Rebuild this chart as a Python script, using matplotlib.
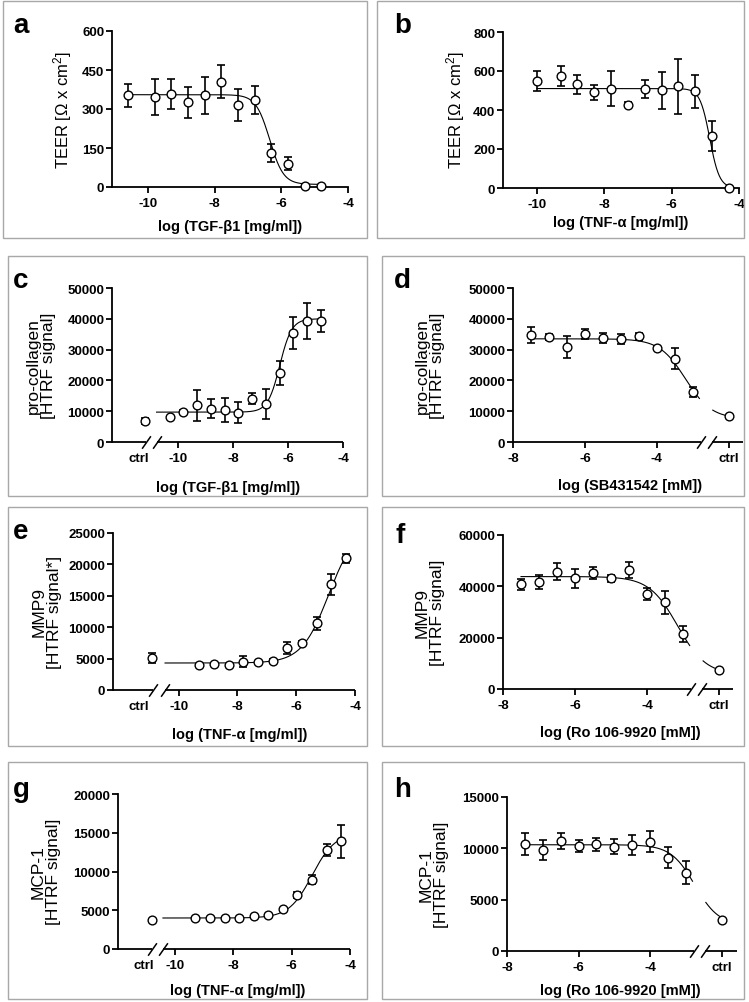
import numpy as np
import matplotlib
matplotlib.use("Agg")
import matplotlib.pyplot as plt
from matplotlib.patches import Rectangle

W, H = 749, 1003

plt.rcParams['font.family'] = ['Liberation Sans', 'DejaVu Sans']
plt.rcParams['axes.unicode_minus'] = False
plt.rcParams['mathtext.fontset'] = 'custom'
plt.rcParams['mathtext.rm'] = 'Liberation Sans'
plt.rcParams['mathtext.it'] = 'Liberation Sans:italic'
plt.rcParams['mathtext.bf'] = 'Liberation Sans:bold'

# --- data (log concentration, mean, error) ---
# fit = (bottom, top, logEC50, hill slope)

# a: TEER vs TGF-b1
a_x = [-10.6, -9.8, -9.3, -8.8, -8.3, -7.8, -7.3, -6.8, -6.3, -5.8, -5.3, -4.8]
a_y = [352, 346, 357, 326, 352, 405, 315, 334, 131, 89, 2, 2]
a_err = [45, 70, 58, 60, 70, 63, 62, 53, 35, 25, 0, 0]
a_fit = (10, 355, -6.35, -2.1)

# b: TEER vs TNF-a
b_x = [-10, -9.3, -8.8, -8.3, -7.8, -7.3, -6.8, -6.3, -5.8, -5.3, -4.8, -4.3]
b_y = [548, 575, 532, 490, 510, 428, 507, 502, 522, 495, 268, 0]
b_err = [50, 50, 50, 38, 90, 12, 45, 95, 140, 85, 77, 0]
b_fit = (0, 510, -4.87, -3.0)

# c: pro-collagen vs TGF-b1
c_x = [-10.3, -9.8, -9.3, -8.8, -8.3, -7.8, -7.3, -6.8, -6.3, -5.8, -5.3, -4.8]
c_y = [8100, 9700, 11900, 10800, 10300, 9500, 14100, 12300, 22400, 35400, 39200, 39300]
c_err = [0, 700, 5000, 3000, 3900, 3400, 1700, 4900, 3800, 5200, 5900, 3500]
c_ctrl = 6800
c_ctrl_err = 900
c_fit = (9700, 40000, -6.3, 2.0)

# d: pro-collagen vs SB431542
d_x = [-7.5, -7, -6.5, -6, -5.5, -5, -4.5, -4, -3.5, -3]
d_y = [34800, 34100, 30800, 35100, 33700, 33500, 34300, 30500, 27000, 16300]
d_err = [2600, 1100, 3600, 1600, 1600, 1700, 1200, 700, 3400, 1700]
d_ctrl = 8500
d_ctrl_err = 0
d_fit = (7500, 33500, -3.2, -1.2)

# e: MMP9 vs TNF-a
e_x = [-9.3, -8.8, -8.3, -7.8, -7.3, -6.8, -6.3, -5.8, -5.3, -4.8, -4.3]
e_y = [4000, 4200, 4000, 4500, 4400, 4600, 6700, 7500, 10600, 16800, 21000]
e_err = [0, 0, 0, 850, 0, 300, 900, 300, 1000, 1700, 700]
e_ctrl = 5100
e_ctrl_err = 750
e_fit = (4300, 26000, -4.9, 0.95)

# f: MMP9 vs Ro 106-9920
f_x = [-7.5, -7, -6.5, -6, -5.5, -5, -4.5, -4, -3.5, -3]
f_y = [40800, 41800, 45700, 43100, 45200, 43100, 46400, 37000, 33800, 21400]
f_err = [2100, 2700, 3400, 3800, 2500, 1400, 3200, 2400, 4400, 3000]
f_ctrl = 7400
f_ctrl_err = 0
f_fit = (5500, 43800, -3.15, -1.1)

# g: MCP-1 vs TNF-a
g_x = [-9.3, -8.8, -8.3, -7.8, -7.3, -6.8, -6.3, -5.8, -5.3, -4.8, -4.3]
g_y = [3960, 3960, 4040, 3960, 4210, 4340, 5120, 6970, 8950, 12800, 13900]
g_err = [0, 0, 0, 0, 0, 0, 0, 400, 550, 800, 2100]
g_ctrl = 3740
g_ctrl_err = 0
g_fit = (4000, 15000, -5.3, 1.1)

# h: MCP-1 vs Ro 106-9920
h_x = [-7.5, -7, -6.5, -6, -5.5, -5, -4.5, -4, -3.5, -3]
h_y = [10390, 9840, 10710, 10230, 10390, 10160, 10320, 10650, 9090, 7630]
h_err = [1070, 970, 810, 580, 650, 730, 970, 1050, 1050, 1090]
h_ctrl = 2990
h_ctrl_err = 0
h_fit = (2500, 10350, -2.75, -1.3)

y_ticks_a = [0, 150, 300, 450, 600]
y_ticks_b = [0, 200, 400, 600, 800]
y_ticks_cd = [0, 10000, 20000, 30000, 40000, 50000]
y_ticks_e = [0, 5000, 10000, 15000, 20000, 25000]
y_ticks_f = [0, 20000, 40000, 60000]
y_ticks_g = [0, 5000, 10000, 15000, 20000]
y_ticks_h = [0, 5000, 10000, 15000]

TEER_LABEL = 'TEER [Ω x cm$^{2}$]'
TGF = 'log (TGF-β1 [mg/ml])'
TNF = 'log (TNF-α [mg/ml])'

LW = 1.3
TICK_FS = 9.5


def four_pl(x, bottom, top, logec50, hill):
    return bottom + (top - bottom) / (1 + 10 ** ((logec50 - x) * hill))


def px_axes(fig, left, top, right, bottom):
    return fig.add_axes([left / W, 1 - bottom / H, (right - left) / W, (bottom - top) / H])


def style_axes(ax, xlim, yticks):
    ax.set_xlim(*xlim)
    ax.set_ylim(0, yticks[-1])
    ax.set_yticks(yticks)
    ax.set_yticklabels([str(t) for t in yticks])
    for s in ('top', 'right'):
        ax.spines[s].set_visible(False)
    for s in ('left', 'bottom'):
        ax.spines[s].set_linewidth(LW)
    ax.tick_params(axis='both', width=LW, length=4, labelsize=TICK_FS)
    ax.tick_params(axis='y', pad=1.5)
    ax.tick_params(axis='x', pad=3.5)
    for lab in ax.get_xticklabels() + ax.get_yticklabels():
        lab.set_fontweight('bold')
    ax.patch.set_alpha(0)


def axis_break(ax, x_from, lo, hi, x_to):
    ax.spines['bottom'].set_visible(False)
    tr = ax.get_xaxis_transform()
    kw = dict(color='k', lw=LW, transform=tr, clip_on=False, solid_capstyle='butt')
    ax.plot([x_from, lo], [0, 0], **kw)
    ax.plot([hi, x_to], [0, 0], **kw)
    for b in (lo, hi):
        ax.plot([b], [0], marker=[(-0.7, -1), (0.7, 1)], ms=9, mec='k', mew=1.1,
                transform=tr, clip_on=False, linestyle='none')


def draw_data(ax, x, y, err, fit, c_from, c_to, gap=None):
    xs = np.linspace(c_from, c_to, 400)
    ys = four_pl(xs, *fit)
    if gap is not None:
        ys[(xs > gap[0]) & (xs < gap[1])] = np.nan
    ax.plot(xs, ys, color='k', lw=0.8, zorder=2)
    ax.errorbar(x, y, yerr=err, fmt='none', ecolor='k', elinewidth=1.2,
                capsize=3, capthick=1.2, zorder=3, clip_on=False)
    ax.plot(x, y, 'o', ms=6.3, mfc='white', mec='k', mew=1.0, zorder=4, clip_on=False)


def panel_box(fig, x0, y0, x1, y1):
    fig.add_artist(Rectangle((x0 / W, 1 - y1 / H), (x1 - x0) / W, (y1 - y0) / H,
                             transform=fig.transFigure, fill=False, ec='#a8a8a8', lw=1.0))


def fig_text(fig, x, y, s, **kw):
    return fig.text(x / W, 1 - y / H, s, **kw)


def main():
    fig = plt.figure(figsize=(W / 100, H / 100), dpi=100)

    boxes = [(3, 2, 367, 239), (377, 2, 744, 239),
             (8, 257, 367, 497), (382, 257, 744, 497),
             (8, 508, 367, 747), (382, 508, 744, 747),
             (8, 763, 367, 1000), (382, 763, 744, 1000)]
    for b in boxes:
        panel_box(fig, *b)

    # a
    ax = px_axes(fig, 112, 32, 348, 188)
    ax.set_xticks([-10, -8, -6, -4])
    ax.set_xticklabels(['-10', '-8', '-6', '-4'])
    style_axes(ax, (-11.08, -4), y_ticks_a)
    draw_data(ax, a_x, a_y, a_err, a_fit, a_x[0], a_x[-1])

    # b
    ax = px_axes(fig, 503, 33, 739, 189)
    ax.set_xticks([-10, -8, -6, -4])
    ax.set_xticklabels(['-10', '-8', '-6', '-4'])
    style_axes(ax, (-11.01, -4), y_ticks_b)
    draw_data(ax, b_x, b_y, b_err, b_fit, b_x[0], b_x[-1])

    # left-ctrl panels: c, e, g
    left_specs = [
        ((112, 289, 343, 443), (-12.4, -4), y_ticks_cd, -11.42, -11.2, -11.15, -10.78,
         c_x, c_y, c_err, c_ctrl, c_ctrl_err, c_fit),
        ((113, 534, 355, 691), (-12.23, -4), y_ticks_e, -11.34, -10.89, -10.86, -10.46,
         e_x, e_y, e_err, e_ctrl, e_ctrl_err, e_fit),
        ((118, 795, 350, 950), (-11.95, -4), y_ticks_g, -11.06, -10.79, -10.77, -10.41,
         g_x, g_y, g_err, g_ctrl, g_ctrl_err, g_fit),
    ]
    for rect, xlim, yt, lab_x, ctrl_x, lo, hi, x, y, err, ctrl, ctrl_err, fit in left_specs:
        ax = px_axes(fig, *rect)
        ax.set_xticks([lab_x, -10, -8, -6, -4])
        ax.set_xticklabels(['ctrl', '-10', '-8', '-6', '-4'])
        style_axes(ax, xlim, yt)
        ax.xaxis.get_major_ticks()[0].tick1line.set_visible(False)
        axis_break(ax, xlim[0], lo, hi, xlim[1])
        draw_data(ax, x, y, err, fit, hi, x[-1])
        ax.errorbar([ctrl_x], [ctrl], yerr=[ctrl_err], fmt='none', ecolor='k',
                    elinewidth=1.2, capsize=3, capthick=1.2, zorder=3)
        ax.plot([ctrl_x], [ctrl], 'o', ms=6.3, mfc='white', mec='k', mew=1.0, zorder=4)

    # right-ctrl panels: d, f, h
    right_specs = [
        ((513, 289, 743, 443), (-8, -1.6), y_ticks_cd, d_x, d_y, d_err, d_ctrl, d_ctrl_err, d_fit),
        ((503, 536, 733, 690), (-8, -1.61), y_ticks_f, f_x, f_y, f_err, f_ctrl, f_ctrl_err, f_fit),
        ((507, 798, 737, 952), (-8, -1.57), y_ticks_h, h_x, h_y, h_err, h_ctrl, h_ctrl_err, h_fit),
    ]
    for rect, xlim, yt, x, y, err, ctrl, ctrl_err, fit in right_specs:
        ax = px_axes(fig, *rect)
        ax.set_xticks([-8, -6, -4, -2])
        ax.set_xticklabels(['-8', '-6', '-4', 'ctrl'])
        style_axes(ax, xlim, yt)
        axis_break(ax, xlim[0], -2.78, -2.46, xlim[1])
        draw_data(ax, x + [-2], y + [ctrl], err + [ctrl_err], fit, x[0], -2, gap=(-2.8, -2.45))

    # axis titles
    ylab_kw = dict(rotation=90, ha='center', va='center', fontsize=12)
    fig_text(fig, 63, 110, TEER_LABEL, **ylab_kw)
    fig_text(fig, 456, 110, TEER_LABEL, **ylab_kw)
    two_kw = dict(ylab_kw, fontsize=12.5, linespacing=1.05, multialignment='center')
    fig_text(fig, 41, 366, 'pro-collagen\n[HTRF signal]', **two_kw)
    fig_text(fig, 430, 366, 'pro-collagen\n[HTRF signal]', **two_kw)
    fig_text(fig, 47, 612, 'MMP9\n[HTRF signal*]', **two_kw)
    fig_text(fig, 430, 613, 'MMP9\n[HTRF signal]', **two_kw)
    fig_text(fig, 46, 872, 'MCP-1\n[HTRF signal]', **two_kw)
    fig_text(fig, 434, 875, 'MCP-1\n[HTRF signal]', **two_kw)

    xlab_kw = dict(ha='center', va='center', fontsize=10.5, fontweight='bold')
    fig_text(fig, 230, 227, TGF, **xlab_kw)
    fig_text(fig, 621, 223, TNF, **xlab_kw)
    fig_text(fig, 228, 488, TGF, **xlab_kw)
    fig_text(fig, 630, 486, 'log (SB431542 [mM])', **xlab_kw)
    fig_text(fig, 240, 735, TNF, **xlab_kw)
    fig_text(fig, 620, 733, 'log (Ro 106-9920 [mM])', **xlab_kw)
    fig_text(fig, 238, 991, TNF, **xlab_kw)
    fig_text(fig, 620, 991, 'log (Ro 106-9920 [mM])', **xlab_kw)

    # panel letters
    letter_kw = dict(ha='left', va='baseline', fontsize=20, fontweight='bold')
    for s, x, y in [('a', 13, 33), ('b', 394, 33), ('c', 13, 288), ('d', 394, 288),
                    ('e', 13, 539), ('f', 396, 543), ('g', 13, 797), ('h', 394, 797)]:
        fig_text(fig, x, y, s, **letter_kw)

    fig.savefig('out.png', dpi=100, facecolor='white')


if __name__ == "__main__":
    main()
